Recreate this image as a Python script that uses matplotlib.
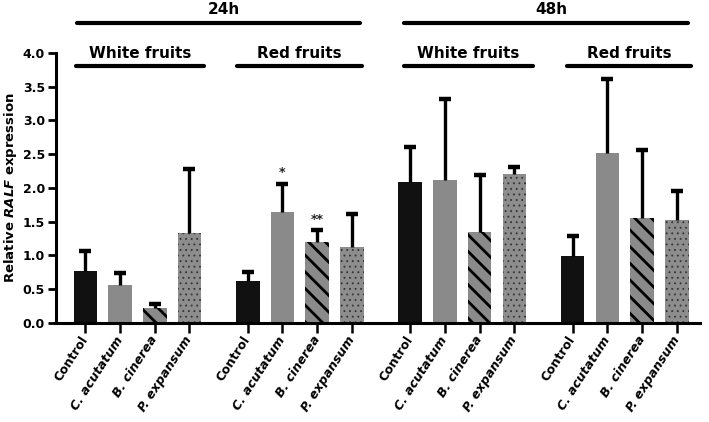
import numpy as np
import matplotlib
matplotlib.use("Agg")
import matplotlib.pyplot as plt

# ---------------- data ----------------
treatments = ["Control", "C. acutatum", "B. cinerea", "P. expansum"]
groups = ["White fruits", "Red fruits", "White fruits", "Red fruits"]
timepoints = ["24h", "48h"]

wf24_mean = [0.76, 0.56, 0.22, 1.33]
wf24_err = [0.31, 0.18, 0.05, 0.95]
rf24_mean = [0.62, 1.64, 1.19, 1.12]
rf24_err = [0.13, 0.42, 0.18, 0.49]
wf48_mean = [2.08, 2.11, 1.34, 2.20]
wf48_err = [0.53, 1.21, 0.85, 0.11]
rf48_mean = [0.99, 2.51, 1.56, 1.53]
rf48_err = [0.30, 1.11, 1.00, 0.43]

# significance marks (group index, treatment index, label)
signif = [(1, 1, "*"), (1, 2, "**")]

yticks = [0.0, 0.5, 1.0, 1.5, 2.0, 2.5, 3.0, 3.5, 4.0]

means = [wf24_mean, rf24_mean, wf48_mean, rf48_mean]
errs = [wf24_err, rf24_err, wf48_err, rf48_err]

# ---------------- style ----------------
plt.rcParams['font.family'] = ['DejaVu Sans']
plt.rcParams['font.weight'] = 'bold'

BLACK = '#111111'
GRAY = '#8a8a8a'
DOTGRAY = '#8d8d8d'

group_step = 4.68
bar_w = 0.68

fig = plt.figure(figsize=(7.09, 4.22), dpi=100)
ax = fig.add_axes([55.5 / 709, 1 - 322.7 / 422, (700 - 55.5) / 709, (322.7 - 53) / 422])

styles = [
    dict(color=BLACK, hatch=None, ec=BLACK, hlw=1.0),
    dict(color=GRAY, hatch=None, ec=GRAY, hlw=1.0),
    dict(color=GRAY, hatch='\\\\', ec='black', hlw=2.0),
    dict(color=DOTGRAY, hatch='...', ec='#333333', hlw=0.6),
]

xpos_all = []
for g in range(4):
    xs = [g * group_step + i for i in range(4)]
    xpos_all.extend(xs)
    for i in range(4):
        st = styles[i]
        with plt.rc_context({'hatch.linewidth': st['hlw']}):
            ax.bar(xs[i], means[g][i], width=bar_w, color=st['color'],
                   edgecolor=st['ec'], linewidth=0, hatch=st['hatch'], zorder=2)
    m = np.array(means[g])
    e = np.array(errs[g])
    ax.errorbar(xs, m, yerr=[np.zeros_like(e), e], fmt='none', ecolor='black',
                elinewidth=2.4, capsize=0, zorder=3)
    ax.plot(xs, m + e, linestyle='none', marker='_', markersize=8.5,
            markeredgewidth=3.2, color='black', zorder=3)

for g, i, lab in signif:
    x = g * group_step + i
    ax.text(x, means[g][i] + errs[g][i] + 0.07, lab, ha='center', va='bottom',
            fontsize=9, fontweight='bold', color='#222222')

ax.set_xlim(-0.86, 17.71)
ax.set_ylim(0, 4.0)
ax.set_yticks(yticks)
ax.set_yticklabels([f"{v:.1f}" for v in yticks], fontsize=9, fontweight='bold')
ax.set_xticks(xpos_all)
labels = ax.set_xticklabels(treatments * 4, rotation=57, ha='right', va='center',
                            rotation_mode='anchor', fontsize=9, fontweight='bold')
for k, lab in enumerate(labels):
    if k % 4 != 0:
        lab.set_fontstyle('italic')

for s in ['top', 'right']:
    ax.spines[s].set_visible(False)
for s in ['left', 'bottom']:
    ax.spines[s].set_linewidth(2.2)
    ax.spines[s].set_color('black')
ax.tick_params(axis='y', direction='out', length=6, width=2.0, pad=1.5)
ax.tick_params(axis='x', direction='out', length=7.5, width=1.8, pad=3)

ax.set_ylabel(r"Relative $\bfit{RALF}$ expression", fontsize=9.5, fontweight='bold', labelpad=3)

# group annotations (layout)
sub_spans = [(-0.27, 3.42), (-0.31, 3.29), (-0.19, 3.55), (-0.15, 3.42)]
for g in range(4):
    a, b = sub_spans[g]
    x0 = g * group_step + a
    x1 = g * group_step + b
    ax.plot([x0, x1], [3.80, 3.80], color='black', lw=3.0, solid_capstyle='round',
            clip_on=False)
    ax.text((x0 + x1) / 2, 3.88, groups[g], ha='center', va='bottom', fontsize=11,
            fontweight='bold')

top_spans = [(-0.245, 7.91), (9.18, 17.36)]
for t in range(2):
    x0, x1 = top_spans[t]
    ax.plot([x0, x1], [4.45, 4.45], color='black', lw=3.0, solid_capstyle='round',
            clip_on=False)
    ax.text((x0 + x1) / 2 + 0.15, 4.53, timepoints[t], ha='center', va='bottom',
            fontsize=11, fontweight='bold')

fig.savefig("out.png", dpi=100)
